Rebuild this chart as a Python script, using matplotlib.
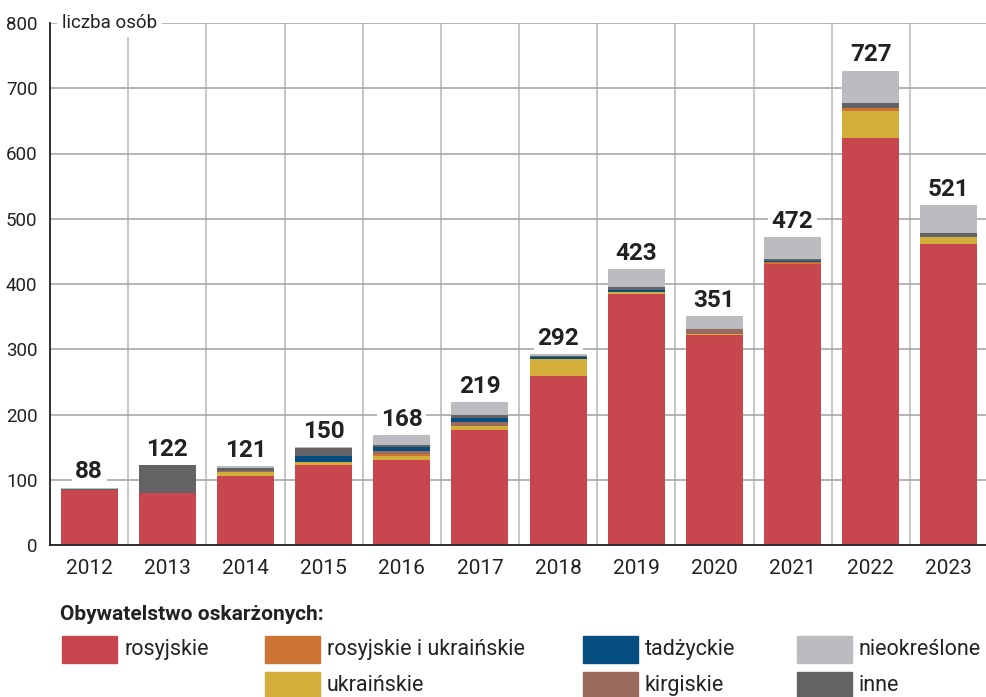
import matplotlib.pyplot as plt
from matplotlib.patches import Rectangle

plt.rcParams['font.family'] = ['Roboto', 'DejaVu Sans']

years = ['2012', '2013', '2014', '2015', '2016', '2017',
         '2018', '2019', '2020', '2021', '2022', '2023']
totals = [88, 122, 121, 150, 168, 219, 292, 423, 351, 472, 727, 521]

# stack segments, bottom to top
rosyjskie = [84, 79, 105, 123, 130, 176, 259, 385, 322, 430, 624, 461]
ukrainskie = [0, 0, 7, 4, 7, 6, 26, 2, 2, 0, 41, 11]
ros_ukr = [0, 0, 0, 0, 3, 0, 0, 0, 0, 3, 5, 0]
kirgiskie = [0, 0, 2, 0, 4, 6, 0, 0, 7, 0, 0, 0]
tadzyckie = [0, 1, 0, 9, 6, 7, 3, 4, 0, 2, 0, 0]
inne = [2, 42, 4, 13, 4, 5, 2, 4, 0, 3, 8, 6]
nieokreslone = [2, 0, 3, 1, 14, 19, 2, 28, 20, 34, 49, 43]

series = [
    ('rosyjskie', rosyjskie, '#C8464E'),
    ('ukraińskie', ukrainskie, '#D4AE3A'),
    ('rosyjskie i ukraińskie', ros_ukr, '#CD7434'),
    ('kirgiskie', kirgiskie, '#9A6A5D'),
    ('tadżyckie', tadzyckie, '#044D7E'),
    ('inne', inne, '#636365'),
    ('nieokreślone', nieokreslone, '#BBBCBF'),
]

fig = plt.figure(figsize=(9.86, 6.97), dpi=100)
ax = fig.add_axes([50 / 986, 1 - 545 / 697, 938 / 986, 522 / 697])

x = range(len(years))
bottom = [0] * len(years)
for name, vals, col in series:
    ax.bar(x, vals, bottom=bottom, width=0.73, color=col, zorder=3)
    bottom = [b + v for b, v in zip(bottom, vals)]

# totals above bars
for i, t in enumerate(totals):
    ax.annotate(str(t), (i, t), xytext=(0, 3), textcoords='offset points',
                ha='center', va='bottom', fontsize=17.5, fontweight='bold',
                color='#222222', zorder=4,
                bbox=dict(boxstyle='square,pad=0.15', fc='white', ec='none'))

ax.set_xlim(-0.5, 11.5)
ax.set_ylim(0, 800)
ax.set_yticks(range(0, 801, 100))
ax.set_xticks(x)
ax.set_xticklabels(years)
ax.set_xticks([i + 0.5 for i in range(11)], minor=True)
ax.tick_params(axis='both', which='both', length=0, labelcolor='#222222')
ax.tick_params(axis='y', pad=9, labelsize=13.5)
ax.tick_params(axis='x', pad=10, labelsize=15)
ax.grid(axis='y', color='#A8A8AA', lw=1.2, zorder=0)
ax.grid(axis='x', which='minor', color='#BDBDBF', lw=1.2, zorder=0)
for s in ['top', 'right']:
    ax.spines[s].set_visible(False)
for s in ['left', 'bottom']:
    ax.spines[s].set_color('#222222')
    ax.spines[s].set_linewidth(1.3)
    ax.spines[s].set_zorder(5)

ax.annotate('liczba osób', (-0.5, 800), xytext=(8.5, 0), textcoords='offset points',
            ha='left', va='center', fontsize=13.5, color='#222222', zorder=6,
            bbox=dict(boxstyle='square,pad=0.25', fc='white', ec='none'))

# legend
fig.text(60 / 986, 1 - 614 / 697, 'Obywatelstwo oskarżonych:', fontsize=15,
         fontweight='bold', color='#222222', va='center', ha='left')
leg_pos = {
    'rosyjskie': (62, 636), 'rosyjskie i ukraińskie': (265, 636),
    'tadżyckie': (583, 636), 'nieokreślone': (797, 636),
    'ukraińskie': (265, 672), 'kirgiskie': (583, 672), 'inne': (797, 672),
}
for name, vals, col in series:
    px, py = leg_pos[name]
    fig.add_artist(Rectangle((px / 986, 1 - (py + 27) / 697), 55 / 986, 27 / 697,
                             transform=fig.transFigure, color=col))
    fig.text((px + 62) / 986, 1 - (py + 13.5) / 697, name, fontsize=15.5,
             color='#222222', va='center', ha='left')

fig.savefig('out.png', dpi=100)
